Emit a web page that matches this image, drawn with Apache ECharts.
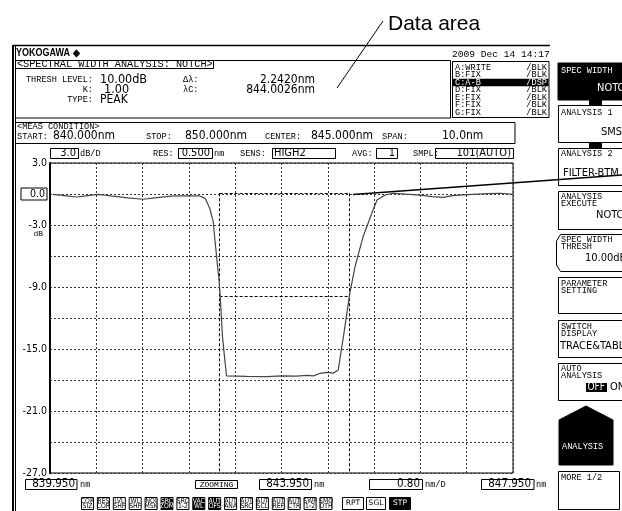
<!DOCTYPE html>
<html>
<head>
<meta charset="utf-8">
<script src="https://cdn.jsdelivr.net/npm/echarts@6.0.0/dist/echarts.min.js"></script>
<style>html,body{margin:0;padding:0;background:#fff;}#c{width:622px;height:511px;}</style>
</head>
<body>
<div id="c"></div>
<script>
// ---- data ----
const wavelengths = [840.00, 840.20, 840.41, 840.60, 840.78, 841.00, 841.30, 841.56, 841.80, 842.08, 842.30, 842.54, 842.63, 842.71, 842.77, 842.80, 842.84, 842.87, 842.89, 842.93, 842.97, 843.00, 843.35, 843.70, 843.95, 844.20, 844.40, 844.50, 844.62, 844.73, 844.85, 844.93, 845.02, 845.13, 845.22, 845.36, 845.51, 845.60, 845.74, 845.88, 846.10, 846.34, 846.55, 846.75, 846.90, 847.03, 847.26, 847.50, 847.73, 847.95];
const levels = [-0.03, -0.15, -0.29, -0.15, -0.03, -0.18, -0.38, -0.51, -0.35, -0.19, -0.17, -0.19, -0.42, -1.38, -2.68, -4.45, -6.70, -8.30, -9.77, -13.80, -16.00, -17.60, -17.65, -17.68, -17.60, -17.62, -17.55, -17.60, -17.35, -17.26, -17.33, -17.03, -13.80, -9.61, -7.04, -4.13, -1.87, -0.58, -0.10, 0.07, -0.02, -0.10, -0.25, -0.32, -0.15, -0.10, -0.03, 0.03, 0.07, -0.03];
const yTickValues = [3, 0, -3, -9, -15, -21, -27];
const yTickLabels = ['3.0', '0.0', '-3.0', '-9.0', '-15.0', '-21.0', '-27.0'];
const xStartLabel = '839.950', xCenterLabel = '843.950', xStopLabel = '847.950', xScaleLabel = '0.80';
const markerWl = [842.8816, 845.1236];
const peakLevel = 0.07, threshLevel = -9.93;
const traceRows = [['A:WRITE', '/BLK'], ['B:FIX', '/BLK'], ['C:A-B', '/DSP'], ['D:FIX', '/BLK'], ['E:FIX', '/BLK'], ['F:FIX', '/BLK'], ['G:FIX', '/BLK']];
const funcButtons = [['COR','SIZ'],['RES','COR'],['LVL','SHF'],['WL','SHF'],['NOI','MSK'],['SRC','ZOM'],['SRC','1-2'],['VAC','WL'],['AUT','OFS'],['AUT','ANA'],['AUT','SRC'],['AUT','SCL'],['AUT','REF'],['AUT','CTR'],['SWP','1-2'],['SMO','OTH']];
const funcButtonsOn = [5, 7, 8];

// ---- fonts ----
const MONO = '"Liberation Mono","DejaVu Sans Mono",monospace';
const COND = '"DejaVu Sans Condensed","DejaVu Sans",sans-serif';
const f = (s, fam, w) => (w ? w + ' ' : '') + s + 'px ' + fam;

const G = [];
function T(x, y, text, o) {
  o = o || {};
  G.push({type: 'text', x: x, y: y, silent: true, z: o.z || 20,
    scaleX: o.sx || 1,
    style: {text: text, fill: o.fill || '#000', font: o.font || f(9, MONO),
      textAlign: o.align || 'left', align: o.align || 'left',
      textVerticalAlign: 'middle', verticalAlign: 'middle'}});
}
function R(x, y, w, h, o) {
  o = o || {};
  G.push({type: 'rect', silent: true, z: o.z || 15, shape: {x: x, y: y, width: w, height: h},
    style: {fill: o.fill || 'none', stroke: o.stroke === undefined ? '#000' : o.stroke, lineWidth: o.lw || 1}});
}
function L(x1, y1, x2, y2, o) {
  o = o || {};
  G.push({type: 'line', silent: true, z: o.z || 15, shape: {x1: x1, y1: y1, x2: x2, y2: y2},
    style: {stroke: o.stroke || '#000', lineWidth: o.lw || 1}});
}

// annotation
T(388, 24, 'Data area', {font: f(21, '"Liberation Sans",Arial,sans-serif')});
L(337, 88, 383, 21, {lw: 1});
// frame
L(13, 45.5, 550, 45.5, {lw: 1.5});
L(13, 45, 13, 511, {lw: 2});
L(15.5, 45, 15.5, 511, {lw: 1});
T(16, 53, 'YOKOGAWA \u25C6', {font: f(10, '"Liberation Sans",Arial,sans-serif', 'bold'), sx: 0.9});
T(452, 54.5, '2009 Dec 14 14:17', {font: f(9.6, MONO)});
// analysis header box
R(15.5, 60.5, 435, 57.5);
L(15.5, 68.5, 213.5, 68.5); L(213.5, 60.5, 213.5, 68.5);
T(17, 64.5, '<SPECTRAL WIDTH ANALYSIS: NOTCH>', {font: f(10.2, MONO)});
T(93, 80, 'THRESH LEVEL:', {align: 'right', font: f(8.6, MONO)});
T(100, 79.5, '10.00dB', {font: f(12.5, COND)});
T(93, 90, 'K:', {align: 'right', font: f(8.6, MONO)});
T(104, 89.5, '1.00', {font: f(12.5, COND)});
T(93, 100, 'TYPE:', {align: 'right', font: f(8.6, MONO)});
T(100, 99.5, 'PEAK', {font: f(12, COND)});
T(183, 80, '\u0394\u03BB:', {font: f(8.6, MONO)});
T(315, 79.5, '2.2420nm', {align: 'right', font: f(12, COND)});
T(183, 90, '\u03BBC:', {font: f(8.6, MONO)});
T(315, 89.5, '844.0026nm', {align: 'right', font: f(12, COND)});
// trace list
R(452.5, 61.5, 96.5, 56);
traceRows.forEach((r, i) => {
  const y = 67.5 + i * 7.5;
  const on = i === 2;
  if (on) R(453, y - 3.7, 95.5, 7.4, {fill: '#000', stroke: 'none'});
  T(455, y, r[0], {font: f(8.6, MONO), fill: on ? '#fff' : '#000'});
  T(547, y, r[1], {align: 'right', font: f(8.6, MONO), fill: on ? '#fff' : '#000'});
});
// meas condition
R(15.5, 122.5, 499.5, 21);
T(17, 127, '<MEAS CONDITION>', {font: f(8.6, MONO)});
T(17, 136.5, 'START:', {font: f(8.6, MONO)});
T(53, 136, '840.000nm', {font: f(12, COND)});
T(146, 137, 'STOP:', {font: f(8.6, MONO)});
T(185, 136, '850.000nm', {font: f(12, COND)});
T(265, 137, 'CENTER:', {font: f(8.6, MONO)});
T(311, 136, '845.000nm', {font: f(12, COND)});
T(382, 137, 'SPAN:', {font: f(8.6, MONO)});
T(442, 136, '10.0nm', {font: f(12, COND)});
// chart header row
R(50.5, 148.5, 28, 10); T(76, 153.5, '3.0', {align: 'right', font: f(11, COND)}); T(80, 154, 'dB/D', {font: f(8.6, MONO)});
T(153, 154, 'RES:', {font: f(8.6, MONO)});
R(178.5, 148.5, 34, 10); T(210, 153.5, '0.500', {align: 'right', font: f(11, COND)}); T(214, 154, 'nm', {font: f(8.6, MONO)});
T(240, 154, 'SENS:', {font: f(8.6, MONO)});
R(272.5, 148.5, 63, 10); T(274, 153.5, 'HIGH2', {font: f(11, COND)});
T(352, 154, 'AVG:', {font: f(8.6, MONO)});
R(376.5, 148.5, 21, 10); T(395, 153.5, '1', {align: 'right', font: f(11, COND)});
T(413, 154, 'SMPL:', {font: f(8.6, MONO)});
R(435.5, 148.5, 78, 10); T(511, 153.5, '101(AUTO)', {align: 'right', font: f(11, COND)});
// y unit
T(43, 234, 'dB', {align: 'right', font: f(8, MONO)});
// bottom row
R(25.5, 479.5, 51.5, 10); T(75, 484.5, xStartLabel, {align: 'right', font: f(11.5, COND)}); T(80, 485, 'nm', {font: f(8.6, MONO)});
R(195.5, 480.5, 42, 8); T(216.5, 485, 'ZOOMING', {align: 'center', font: f(8, MONO)});
R(259.5, 479.5, 52, 10); T(309, 484.5, xCenterLabel, {align: 'right', font: f(11.5, COND)}); T(314, 485, 'nm', {font: f(8.6, MONO)});
R(369.5, 479.5, 53, 10); T(420, 484.5, xScaleLabel, {align: 'right', font: f(11.5, COND)}); T(425, 485, 'nm/D', {font: f(8.6, MONO)});
R(481.5, 479.5, 52.5, 10); T(531, 484.5, xStopLabel, {align: 'right', font: f(11.5, COND)}); T(536, 485, 'nm', {font: f(8.6, MONO)});
funcButtons.forEach((b, i) => {
  const x = 81 + i * 15.9;
  const on = funcButtonsOn.indexOf(i) >= 0;
  R(x + 0.5, 497.5, 12, 12, {fill: on ? '#000' : '#fff'});
  T(x + 6.5, 500.8, b[0], {align: 'center', font: f(6.8, COND), fill: on ? '#fff' : '#000'});
  T(x + 6.5, 506.3, b[1], {align: 'center', font: f(6.8, COND), fill: on ? '#fff' : '#000'});
});
[['RPT', 342, 21, false], ['SGL', 366, 19, false], ['STP', 389, 21, true]].forEach(b => {
  R(b[1] + 0.5, 497.5, b[2], 12, {fill: b[3] ? '#000' : '#fff'});
  T(b[1] + 0.5 + b[2] / 2, 503.5, b[0], {align: 'center', font: f(7.5, '"DejaVu Sans",sans-serif'), fill: b[3] ? '#fff' : '#000'});
});
// right soft keys
R(558, 63, 80, 37, {fill: '#000'});
R(589, 99, 13, 7, {fill: '#000', stroke: 'none'});
T(561, 71, 'SPEC WIDTH', {font: f(8.6, MONO), fill: '#fff'});
T(597, 88, 'NOTCH', {font: f(11, COND), fill: '#fff'});
R(558.5, 105.5, 80, 37);
T(561, 113, 'ANALYSIS 1', {font: f(8.6, MONO)});
T(601, 132, 'SMSR', {font: f(11, COND)});
R(589, 142, 13, 6, {fill: '#000', stroke: 'none'});
R(558.5, 148.5, 80, 37);
T(561, 154, 'ANALYSIS 2', {font: f(8.6, MONO)});
T(563, 173, 'FILTER-BTM', {font: f(11, COND)});
R(558.5, 191.5, 80, 38);
T(561, 197, 'ANALYSIS', {font: f(8.6, MONO)});
T(561, 204, 'EXECUTE', {font: f(8.6, MONO)});
T(596, 215, 'NOTCH', {font: f(11, COND)});
G.push({type: 'polyline', silent: true, z: 15, shape: {points: [[640, 234.5], [560.5, 234.5], [556.5, 241], [556.5, 265], [560.5, 271.5], [640, 271.5]]}, style: {stroke: '#000', fill: 'none', lineWidth: 1}});
T(561, 240, 'SPEC WIDTH', {font: f(8.6, MONO)});
T(561, 247, 'THRESH', {font: f(8.6, MONO)});
T(585, 258, '10.00dB', {font: f(11, COND)});
R(558.5, 277.5, 80, 36);
T(561, 284, 'PARAMETER', {font: f(8.6, MONO)});
T(561, 291, 'SETTING', {font: f(8.6, MONO)});
R(558.5, 320.5, 80, 37);
T(561, 327, 'SWITCH', {font: f(8.6, MONO)});
T(561, 334, 'DISPLAY', {font: f(8.6, MONO)});
T(560, 346, 'TRACE&TABLE', {font: f(11, COND)});
R(558.5, 363.5, 80, 37);
T(561, 369, 'AUTO', {font: f(8.6, MONO)});
T(561, 376, 'ANALYSIS', {font: f(8.6, MONO)});
R(586, 383, 21, 9, {fill: '#000', stroke: 'none'});
T(587.5, 387.5, 'OFF', {font: f(10, COND), fill: '#fff'});
T(610, 387.5, 'ON', {font: f(11, COND)});
G.push({type: 'polygon', silent: true, z: 15, shape: {points: [[559, 420], [586, 406], [613, 420], [613, 465], [559, 465]]}, style: {fill: '#000', stroke: '#000'}});
T(562, 447, 'ANALYSIS', {font: f(8.6, MONO), fill: '#fff'});
R(558.5, 471.5, 61, 38);
T(561, 478, 'MORE 1/2', {font: f(8.6, MONO)});
// callout line
L(353, 194.5, 622, 175, {lw: 1.5, z: 30});

const seriesData = wavelengths.map((w, i) => [w, levels[i]]);
const dash = {color: '#333', width: 1, type: [2, 2]};

const chart = echarts.init(document.getElementById('c'), null, {renderer: 'canvas'});
chart.setOption({
  animation: false,
  backgroundColor: '#fff',
  grid: {left: 50, top: 163, width: 463, height: 310, show: true, borderColor: '#000', borderWidth: 1, backgroundColor: 'transparent'},
  xAxis: [
    {type: 'value', min: 839.95, max: 847.95, show: false},
    {type: 'value', min: 0, max: 10, interval: 1, axisLine: {show: false}, axisTick: {show: false}, axisLabel: {show: false}, splitLine: {show: true, lineStyle: dash}}
  ],
  yAxis: {
    type: 'value', min: -27, max: 3, interval: 3,
    axisLine: {show: true, lineStyle: {color: '#000', width: 2}},
    axisTick: {show: false},
    splitLine: {show: true, lineStyle: dash},
    axisLabel: {
      margin: 3, color: '#000', fontFamily: COND, fontSize: 10.5,
      formatter: function (v) {
        const k = yTickValues.indexOf(v);
        if (k < 0) return '';
        return v === 0 ? '{box|' + yTickLabels[k] + '}' : yTickLabels[k];
      },
      rich: {box: {borderColor: '#000', borderWidth: 1, padding: [1, 2, 0, 9], fontFamily: COND, fontSize: 10.5, color: '#000'}}
    }
  },
  series: [{
    type: 'line', xAxisIndex: 0, data: seriesData, showSymbol: false, symbol: 'none',
    lineStyle: {color: '#444', width: 1.2}, z: 5,
    markLine: {
      silent: true, symbol: 'none', label: {show: false},
      lineStyle: {color: '#000', width: 1, type: [3, 2]},
      data: [
        [{coord: [markerWl[0], peakLevel]}, {coord: [markerWl[0], -27]}],
        [{coord: [markerWl[1], peakLevel]}, {coord: [markerWl[1], -27]}],
        [{coord: [markerWl[0], peakLevel]}, {coord: [markerWl[1], peakLevel]}],
        [{coord: [markerWl[0], threshLevel]}, {coord: [markerWl[1], threshLevel]}]
      ]
    }
  }],
  graphic: {elements: G}
});
</script>
</body>
</html>
